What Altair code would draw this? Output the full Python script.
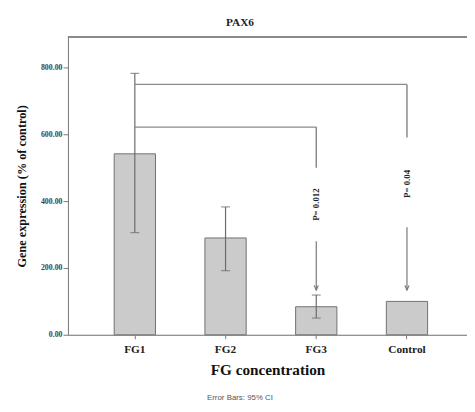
import altair as alt
import pandas as pd

# ---- data ----
groups = ["FG1", "FG2", "FG3", "Control"]
means = [542, 290, 84, 100]
ci_low = [306, 192, 50, 100]
ci_high = [783, 383, 119, 100]

# significance brackets (all start at FG1)
br_from = ["FG1", "FG1"]
br_to = ["Control", "FG3"]
br_level = [750, 622]
br_drop_end = [591, 500]
p_labels = ["P= 0.04", "P= 0.012"]
p_label_y = [452, 390]
arrow_start = [322, 280]
arrow_end = [134, 134]

y_ticks = [0, 200, 400, 600, 800]

W, H = 406, 303
SERIF = "Liberation Serif, Times New Roman, serif"

df = pd.DataFrame({"group": groups, "mean": means, "lo": ci_low, "hi": ci_high})
err = df[df["group"] != "Control"]
br = pd.DataFrame({"group": br_from, "target": br_to, "level": br_level,
                   "drop_end": br_drop_end})
drops = pd.DataFrame({"group": br_to, "level": br_level, "drop_end": br_drop_end,
                      "label": p_labels, "label_y": p_label_y,
                      "a0": arrow_start, "a1": arrow_end})

xscale = alt.Scale(domain=groups, paddingInner=0.545, paddingOuter=0.472, align=0.54)
X = alt.X("group:N", sort=groups, scale=xscale,
          axis=alt.Axis(title="FG concentration", labelAngle=0,
                        labelFontSize=11.5, labelColor="#222",
                        titleFontSize=15.5, titleColor="#111", titlePadding=8,
                        tickSize=4, tickColor="#777", domainColor="#777",
                        labelPadding=5))
yscale = alt.Scale(domain=[0, 892], nice=False, zero=True)
Y = alt.Y("mean:Q", scale=yscale,
          axis=alt.Axis(title="Gene expression (% of control)", values=y_ticks,
                        format=".2f", grid=False, labelFontSize=8, labelColor="#444",
                        titleFontSize=12.5, titleColor="#111", titlePadding=12,
                        tickSize=5, tickColor="#777", domainColor="#777",
                        labelPadding=1))

bars = alt.Chart(df).mark_bar(fill="#cbcbcb", stroke="#707070", strokeWidth=1).encode(x=X, y=Y)

err_rule = alt.Chart(err).mark_rule(color="#6a6a6a", strokeWidth=1.2).encode(
    x=alt.X("group:N", sort=groups), y=alt.Y("lo:Q"), y2="hi:Q")
cap_hi = alt.Chart(err).mark_tick(color="#6a6a6a", size=9, thickness=1.2).encode(
    x=alt.X("group:N", sort=groups), y=alt.Y("hi:Q"))
cap_lo = alt.Chart(err).mark_tick(color="#6a6a6a", size=9, thickness=1.2).encode(
    x=alt.X("group:N", sort=groups), y=alt.Y("lo:Q"))

br_h = alt.Chart(br).mark_rule(color="#8a8a8a", strokeWidth=1.5).encode(
    x=alt.X("group:N", sort=groups), x2="target:N", y=alt.Y("level:Q"))
br_v = alt.Chart(drops).mark_rule(color="#8a8a8a", strokeWidth=1.5).encode(
    x=alt.X("group:N", sort=groups), y=alt.Y("level:Q"), y2="drop_end:Q")
p_txt = alt.Chart(drops).mark_text(font=SERIF, fontWeight="bold", fontSize=9,
                                   angle=270, color="#222").encode(
    x=alt.X("group:N", sort=groups), y=alt.Y("label_y:Q"), text="label:N")
arrow = alt.Chart(drops).mark_rule(color="#777", strokeWidth=1.2).encode(
    x=alt.X("group:N", sort=groups), y=alt.Y("a0:Q"), y2="a1:Q")
head = alt.Chart(drops).mark_point(shape="M-0.45,-1L0,0L0.45,-1", size=90, filled=False,
                                   color="#777", strokeWidth=1.2, opacity=1).encode(
    x=alt.X("group:N", sort=groups), y=alt.Y("a1:Q"))

top_line = alt.Chart(df).mark_rule(color="#8a8a8a", strokeWidth=1.5).encode(
    x=alt.value(0), x2=alt.value(W), y=alt.value(0))
foot = alt.Chart(pd.DataFrame({"t": ["Error Bars: 95% CI"]})).mark_text(
    font="Liberation Sans", fontSize=8, color="#555").encode(
    x=alt.value(175), y=alt.value(H + 64), text="t:N")

chart = alt.layer(bars, err_rule, cap_hi, cap_lo, br_h, br_v, p_txt, arrow, head,
                  top_line, foot).properties(
    width=W, height=H,
    title=alt.TitleParams("PAX6", font=SERIF, fontWeight="bold", fontSize=11.5,
                          color="#222", anchor="middle", dx=-28, offset=8),
    autosize="none",
    padding={"left": 61, "top": 26, "right": 0, "bottom": 70},
).configure_view(stroke=None).configure(background="white").configure_axis(
    labelFont=SERIF, titleFont=SERIF, labelFontWeight="bold", titleFontWeight="bold")

chart.save("out.html", embed_options={"renderer": "svg", "actions": False})
